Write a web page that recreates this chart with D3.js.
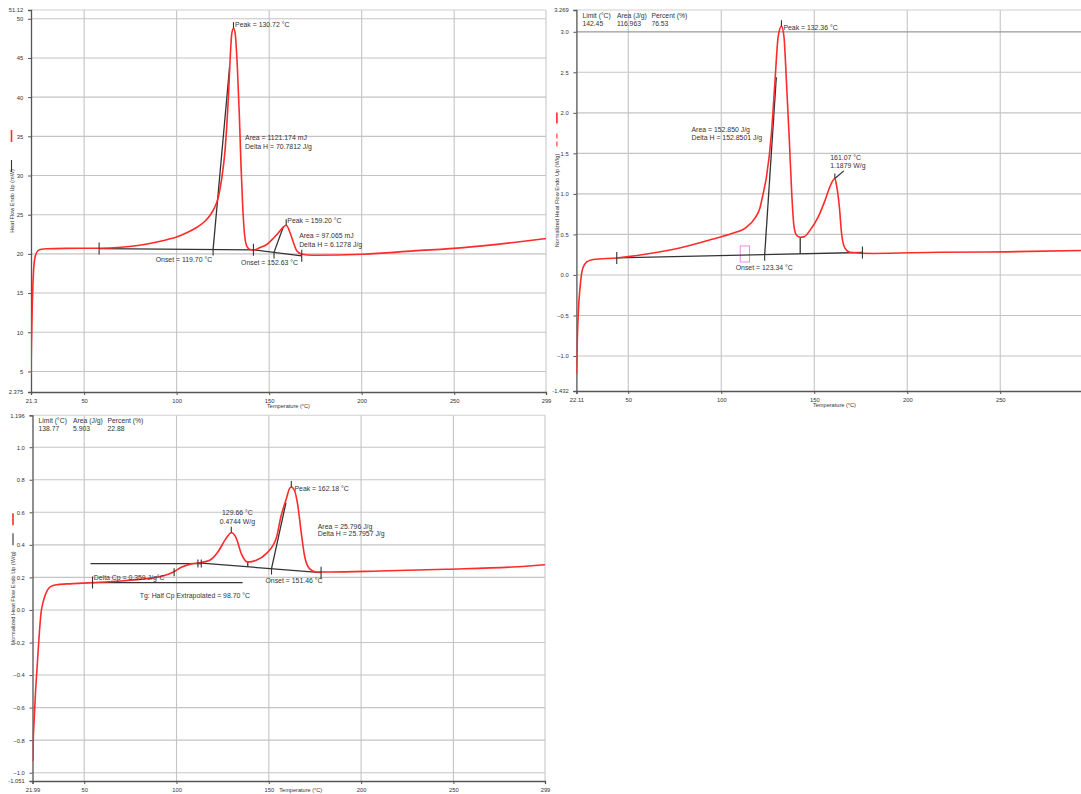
<!DOCTYPE html>
<html><head><meta charset="utf-8">
<script src="https://cdn.jsdelivr.net/npm/d3@7"></script>
<style>
body{margin:0;background:#fff;}
svg{display:block;font-family:"Liberation Sans",Arial,sans-serif;}
</style>
</head><body>
<svg id="c" width="1081" height="794"></svg>
<script>
// ---------------- DATA ----------------
const xTickValues = [50, 100, 150, 200, 250];

// Panel 1 : Heat Flow (mW)
const p1Temp = [21.3,21.5,22.0,22.6,23.5,25,27,30,40,58,70,80,90,96,100,106,111,115,118,120.5,122.5,124.3,126.2,127.1,128.0,128.9,129.8,130.72,131.6,132.8,133.9,134.8,135.7,136.6,137.9,139.7,141.5,145.1,148.7,152.3,155.0,157.4,159.2,161.3,163.1,164.9,167.6,173.9,200.9,228,255,282,299.6];
const p1Flow = [4.6,7.9,13.5,17.5,19.6,20.4,20.6,20.65,20.7,20.72,20.85,21.1,21.55,21.9,22.15,22.75,23.4,24.1,24.9,25.9,27.2,29.5,33.3,36.3,40.1,44.8,48.1,48.8,48.2,43.9,37.6,31.2,26.1,22.7,21.0,20.55,20.5,20.8,21.2,22.0,22.7,23.35,23.65,22.7,21.45,20.4,19.96,19.83,19.96,20.38,20.8,21.45,21.96];
const p1YTicks = [5,10,15,20,25,30,35,40,45,50];

// Panel 2 : Normalized Heat Flow (W/g)
const p2Temp = [22.2,22.6,23.1,24.1,25.3,27.7,31.2,43.8,59,77,95,105.6,113.6,118.1,120.7,122.5,124.3,127,128.8,130.6,132.36,133.7,135.1,136.6,137.9,139.1,140.5,142.45,144.5,147.7,152.2,155.8,158.8,161.07,162.1,163.5,164.7,166.5,169.2,181.7,217.6,253.4,299.6];
const p2Flow = [-1.22,-0.81,-0.48,-0.15,0.06,0.16,0.19,0.21,0.255,0.33,0.44,0.51,0.59,0.70,0.82,1.0,1.21,1.75,2.36,2.94,3.07,2.94,2.36,1.66,1.0,0.6,0.49,0.465,0.47,0.55,0.72,0.92,1.11,1.19,1.09,0.84,0.51,0.33,0.28,0.265,0.28,0.285,0.305];
const p2YTicks = [-1.0,-0.5,0.0,0.5,1.0,1.5,2.0,2.5,3.0];

// Panel 3 : Normalized Heat Flow (W/g)
const p3Temp = [22.3,22.4,22.7,23.6,24.5,25.4,26.6,28,30,32,35,40.5,55,70,80,88,93,98,102.6,108,112.5,118,122.4,126.9,129.66,132.4,135.1,138.6,143.2,148.6,154,156.7,159.4,161.2,162.18,163.9,165.7,167.5,169.3,172,175.6,182.8,209.8,245.9,281.9,299.6];
const p3Flow = [-0.93,-0.8,-0.72,-0.51,-0.35,-0.19,-0.02,0.06,0.12,0.145,0.155,0.16,0.168,0.178,0.188,0.198,0.21,0.232,0.262,0.283,0.29,0.305,0.356,0.44,0.474,0.44,0.346,0.294,0.305,0.346,0.44,0.58,0.68,0.745,0.755,0.734,0.642,0.48,0.336,0.254,0.233,0.233,0.239,0.25,0.264,0.278];
const p3YTicks = [-1.0,-0.8,-0.6,-0.4,-0.2,0.0,0.2,0.4,0.6,0.8,1.0];

// Construction lines (temperature, value)
const p1Lines = [
  [[58.1,20.68],[141.5,20.52]],
  [[141.5,20.52],[167.6,19.75]],
  [[119.7,20.56],[128.6,43.8]],
  [[152.63,20.19],[157.7,23.5]]
];
const p1Ticks = [[58.1,20.68,6,6],[141.5,20.52,6,6],[167.6,19.75,6,6],[119.7,20.56,0,6],[152.63,20.19,0,6],[130.72,48.8,6,0],[159.2,23.65,6,0]];
const p2Lines = [
  [[43.8,0.21],[175.9,0.277]],
  [[123.34,0.25],[129.6,2.44]],
  [[142.45,0.465],[142.45,0.26]],
  [[161.07,1.19],[165.9,1.284]]
];
const p2Ticks = [[43.8,0.21,6,6],[175.9,0.277,6,6],[123.34,0.25,0,6],[132.36,3.07,6,0],[161.07,1.19,5,0]];
const p3Lines = [
  [[53.4,0.285],[113.4,0.285]],
  [[113.4,0.288],[178.3,0.229]],
  [[151.46,0.254],[159.3,0.66]],
  [[54.5,0.168],[135.8,0.168]],
  [[138.6,0.294],[138.6,0.265]]
];
const p3Ticks = [[111.6,0.285,4,4],[113.4,0.285,4,4],[178.3,0.229,6,6],[151.46,0.254,0,6],[54.5,0.168,6,6],[98.7,0.232,4,4],[129.66,0.474,6,0],[162.18,0.755,6,0]];

// Annotation labels: [text, temperature, value, anchor]
const p1Labels = [
  ["Peak = 130.72 °C",131.6,49.2,"start"],
  ["Area = 1121.174 mJ",137.0,34.8,"start"],
  ["Delta H = 70.7812 J/g",137.0,33.73,"start"],
  ["Peak = 159.20 °C",159.8,24.29,"start"],
  ["Area = 97.065 mJ",166.2,22.29,"start"],
  ["Delta H = 6.1278 J/g",166.2,21.23,"start"],
  ["Onset = 119.70 °C",119.2,19.33,"end"],
  ["Onset = 152.63 °C",150.2,18.9,"middle"]
];
const p2Labels = [
  ["Peak = 132.36 °C",133.4,3.054,"start"],
  ["Area = 152.850 J/g",84.0,1.795,"start"],
  ["Delta H = 152.8501 J/g",84.0,1.691,"start"],
  ["161.07 °C",158.6,1.449,"start"],
  ["1.1879 W/g",158.6,1.346,"start"],
  ["Onset = 123.34 °C",123.1,0.095,"middle"]
];
const p3Labels = [
  ["Peak = 162.18 °C",163.9,0.748,"start"],
  ["129.66 °C",132.96,0.598,"middle"],
  ["0.4744 W/g",132.96,0.546,"middle"],
  ["Area = 25.796 J/g",176.5,0.515,"start"],
  ["Delta H = 25.7957 J/g",176.5,0.469,"start"],
  ["Onset = 151.46 °C",148.2,0.178,"start"],
  ["Delta Cp = 0.359 J/g°C",55.2,0.199,"start"],
  ["Tg: Half Cp Extrapolated = 98.70 °C",80.1,0.09,"start"]
];
const p2Table = [["Limit (°C)","142.45"],["Area (J/g)","116.963"],["Percent (%)","76.53"]];
const p3Table = [["Limit (°C)","138.77"],["Area (J/g)","5.903"],["Percent (%)","22.88"]];

// ---------------- DRAW ----------------
const svg = d3.select("#c");
const RED = "#ff2a2a", INK = "#333";

function panel(cfg){
  const x = d3.scaleLinear().domain(cfg.xDom).range([cfg.left, cfg.right]);
  const y = d3.scaleLinear().domain(cfg.yDom).range([cfg.bottom, cfg.top]);
  const g = svg.append("g");
  const clipId = "clip" + cfg.id;
  svg.append("clipPath").attr("id", clipId).append("rect")
     .attr("x", cfg.left).attr("y", cfg.top-1).attr("width", cfg.right-cfg.left).attr("height", cfg.bottom-cfg.top+2);

  // grid
  g.selectAll(".vg").data(xTickValues).join("line")
    .attr("x1", d=>x(d)).attr("x2", d=>x(d)).attr("y1", cfg.top).attr("y2", cfg.bottom)
    .attr("stroke","#c4c4c4").attr("stroke-width",1.1);
  g.selectAll(".hg").data(cfg.yTicks).join("line")
    .attr("y1", d=>y(d)).attr("y2", d=>y(d)).attr("x1", cfg.left).attr("x2", cfg.right)
    .attr("stroke", d=> d===cfg.darkGrid ? "#999" : "#c4c4c4").attr("stroke-width", d=> d===cfg.darkGrid ? 1.3 : 1.1);
  // border
  g.append("line").attr("x1",cfg.left).attr("x2",cfg.right).attr("y1",cfg.top).attr("y2",cfg.top).attr("stroke","#d0d0d0").attr("stroke-width",1.1);
  g.append("line").attr("x1",cfg.right).attr("x2",cfg.right).attr("y1",cfg.top).attr("y2",cfg.bottom).attr("stroke","#c8c8c8").attr("stroke-width",1.1);

  // axes
  const xVals = cfg.xMaxLabel ? [cfg.xDom[0], ...xTickValues, cfg.xDom[1]] : [cfg.xDom[0], ...xTickValues];
  const xAxis = d3.axisBottom(x).tickValues(xVals).tickSize(3)
     .tickFormat((d,i)=> i===0 ? cfg.xMinLabel : (d===cfg.xDom[1] ? cfg.xMaxLabel : d3.format("d")(d)));
  const ax = g.append("g").attr("transform",`translate(0,${cfg.bottom})`).call(xAxis);
  const yAxis = d3.axisLeft(y).tickValues([cfg.yDom[0], ...cfg.yTicks, cfg.yDom[1]]).tickSize(3)
     .tickFormat((d,i)=> d===cfg.yDom[0] ? cfg.yMinLabel : (d===cfg.yDom[1] ? cfg.yMaxLabel : cfg.yFmt(d)));
  const ay = g.append("g").attr("transform",`translate(${cfg.left},0)`).call(yAxis);
  [ax, ay].forEach(a=>{
    a.select(".domain").attr("stroke","#555").attr("stroke-width",1.3);
    a.selectAll(".tick line").attr("stroke","#555");
    a.selectAll("text").attr("font-size",5.8).attr("fill","#333").attr("font-family","Liberation Sans, Arial, sans-serif");
  });
  ax.selectAll("text").attr("dy","0.9em");
  ay.selectAll("text").attr("dx","-0.3em");

  // axis titles
  g.append("text").attr("x",(cfg.left+cfg.xTitleRight)/2 + (cfg.xTitleDx||0)).attr("y",cfg.bottom+cfg.xTitleDy)
    .attr("text-anchor","middle").attr("font-size",5.6).attr("fill","#333").text("Temperature (°C)");
  const cy = (cfg.top+cfg.bottom)/2, lx = cfg.left-19.5;
  g.append("text").attr("transform",`translate(${lx+2},${cy}) rotate(-90)`)
    .attr("text-anchor","middle").attr("font-size",5.6).attr("fill","#333").text(cfg.yTitle);
  g.append("line").attr("x1",lx).attr("x2",lx).attr("y1",cy+cfg.leg1[0]).attr("y2",cy+cfg.leg1[1])
    .attr("stroke",RED).attr("stroke-width",1.6);
  g.append("line").attr("x1",lx).attr("x2",lx).attr("y1",cy+cfg.leg2[0]).attr("y2",cy+cfg.leg2[1])
    .attr("stroke",cfg.leg2Color).attr("stroke-width",1.1).attr("stroke-dasharray",cfg.leg2Dash||null);

  const pg = g.append("g").attr("clip-path",`url(#${clipId})`);

  // table header
  if (cfg.table){
    cfg.table.forEach((c,i)=>{
      pg.append("text").attr("x",cfg.left+6+i*34.5).attr("y",cfg.top+8).attr("font-size",6.8).attr("fill","#333").text(c[0]);
      pg.append("text").attr("x",cfg.left+6+i*34.5).attr("y",cfg.top+16).attr("font-size",6.8).attr("fill","#333").text(c[1]);
    });
  }
  if (cfg.rect){
    pg.append("rect").attr("x",x(cfg.rect[0])).attr("y",y(cfg.rect[3]))
      .attr("width",x(cfg.rect[1])-x(cfg.rect[0])).attr("height",y(cfg.rect[2])-y(cfg.rect[3]))
      .attr("fill","none").attr("stroke","#ee88ee").attr("stroke-width",1);
  }

  // construction lines
  cfg.lines.forEach(seg=>{
    pg.append("line").attr("x1",x(seg[0][0])).attr("y1",y(seg[0][1])).attr("x2",x(seg[1][0])).attr("y2",y(seg[1][1]))
      .attr("stroke",INK).attr("stroke-width",1.3);
  });

  // curve
  const data = cfg.temp.map((t,i)=>[t, cfg.flow[i]]);
  pg.append("path").datum(data)
    .attr("d", d3.line().x(d=>x(d[0])).y(d=>y(d[1])).curve(d3.curveMonotoneX))
    .attr("fill","none").attr("stroke",RED).attr("stroke-width",1.6);

  // ticks on markers
  cfg.ticks.forEach(t=>{
    pg.append("line").attr("x1",x(t[0])).attr("x2",x(t[0])).attr("y1",y(t[1])-t[2]).attr("y2",y(t[1])+t[3])
      .attr("stroke",INK).attr("stroke-width",1.1);
  });

  // labels
  cfg.labels.forEach(l=>{
    pg.append("text").attr("x",x(l[1])).attr("y",y(l[2])).attr("dy","0.35em")
      .attr("text-anchor",l[3]).attr("font-size",6.9).attr("fill","#333").text(l[0]);
  });
}

panel({id:1,left:31,right:546,top:10,bottom:392,xDom:[21.3,299.6],yDom:[2.375,51.12],
  xMinLabel:"21.3",xMaxLabel:"299",yMinLabel:"2.375",yMaxLabel:"51.12",yTicks:p1YTicks,yFmt:d3.format("d"),
  xTitleRight:546,xTitleDy:16,yTitle:"Heat Flow Endo Up (mW)",leg1:[-71,-59],leg2:[-41,-29],leg2Color:"#333",
  temp:p1Temp,flow:p1Flow,lines:p1Lines,ticks:p1Ticks,labels:p1Labels});

panel({id:2,left:576.4,right:1092.5,top:10,bottom:391,xDom:[22.11,299.6],yDom:[-1.432,3.269],
  xMinLabel:"22.11",xMaxLabel:"",yMinLabel:"-1.432",yMaxLabel:"3.269",yTicks:p2YTicks,yFmt:d3.format(".1f"),
  xTitleRight:1092.5,xTitleDy:16,yTitle:"Normalized Heat Flow Endo Up (W/g)",leg1:[-88,-77],leg2:[-67,-53],leg2Color:RED,leg2Dash:"5,3",
  darkGrid:3.0,
  temp:p2Temp,flow:p2Flow,lines:p2Lines,ticks:p2Ticks,labels:p2Labels,table:p2Table,rect:[110.2,115.2,0.16,0.358]});

panel({id:3,left:32.5,right:545,top:415.3,bottom:781,xDom:[21.99,299.6],yDom:[-1.051,1.196],
  xMinLabel:"21.99",xMaxLabel:"299",yMinLabel:"-1.051",yMaxLabel:"1.196",yTicks:p3YTicks,yFmt:d3.format(".1f"),
  xTitleRight:545,xTitleDy:11.2,xTitleDx:12,yTitle:"Normalized Heat Flow Endo Up (W/g)",leg1:[-85,-73],leg2:[-65,-53],leg2Color:"#333",
  temp:p3Temp,flow:p3Flow,lines:p3Lines,ticks:p3Ticks,labels:p3Labels,table:p3Table});
</script>
</body></html>
